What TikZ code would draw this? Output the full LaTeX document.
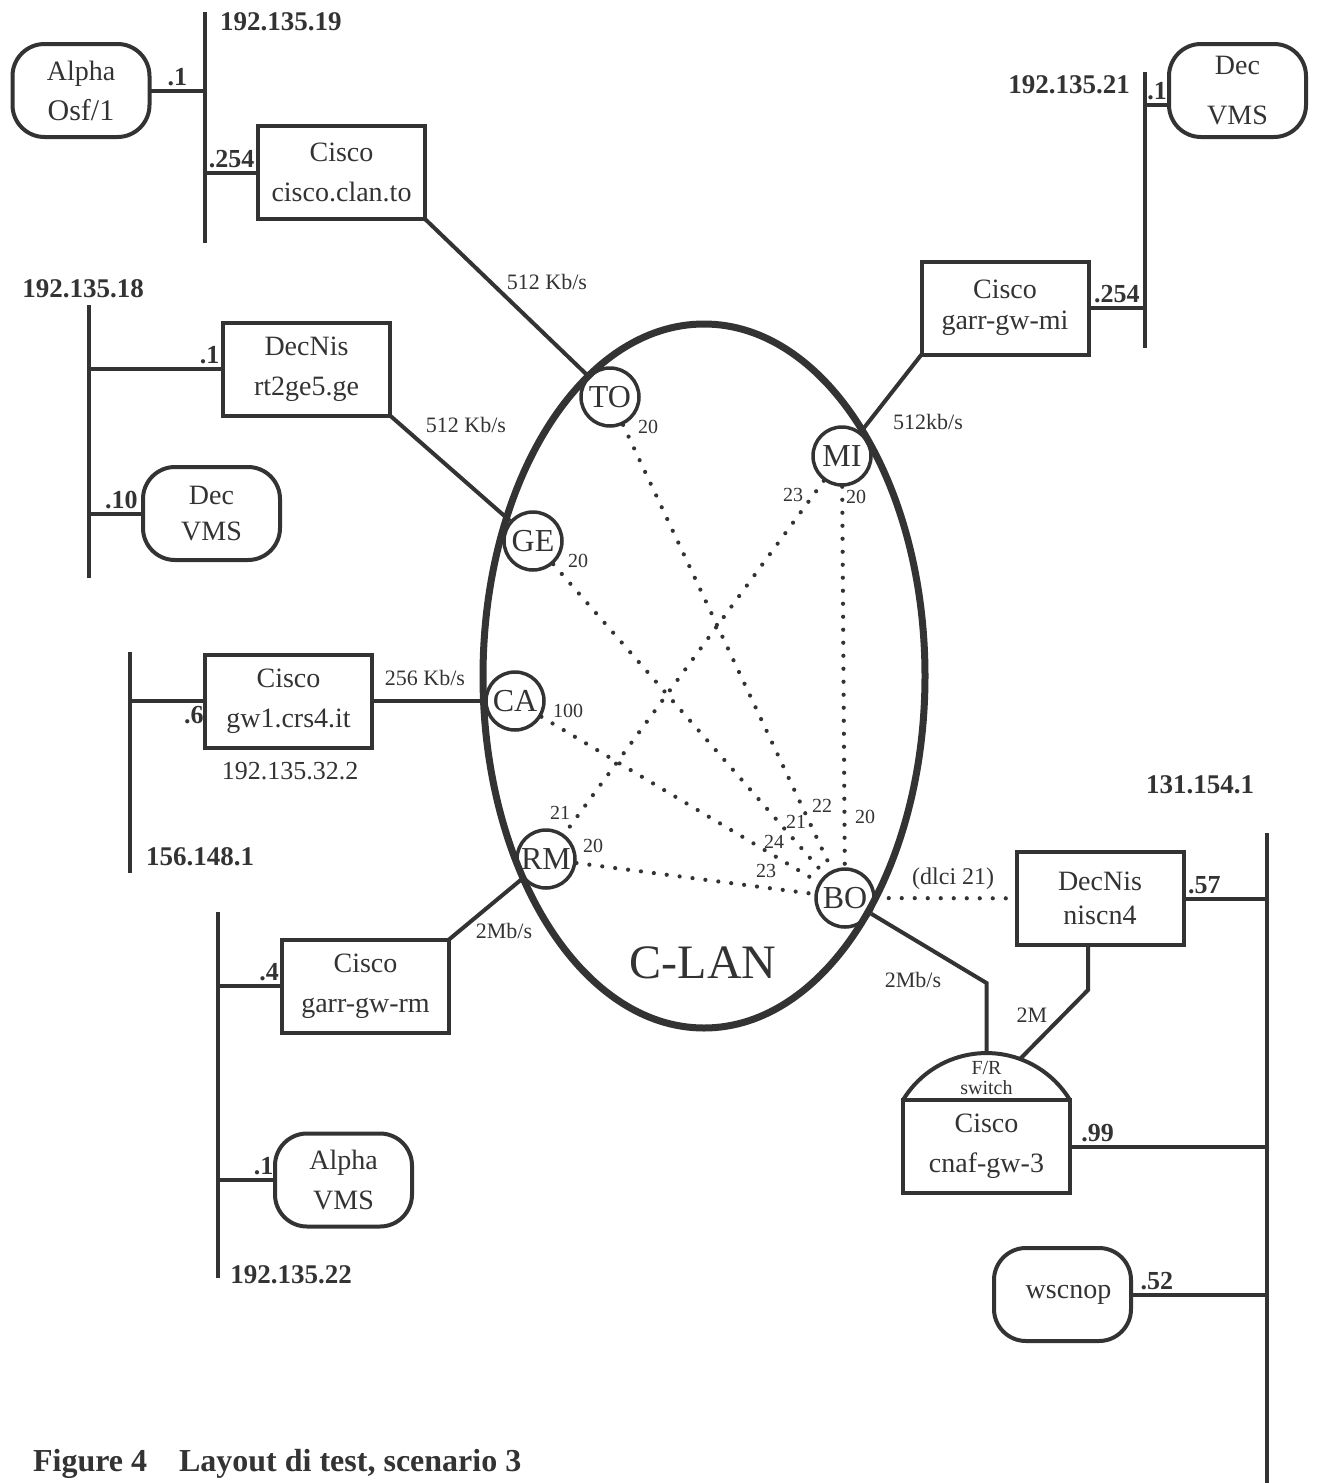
\documentclass[tikz,border=0pt]{standalone}
\usepackage{fontspec}
\setmainfont{Liberation Serif}
\usetikzlibrary{calc}
\definecolor{ink}{HTML}{333333}
\tikzset{every node/.style={text=ink},
  bus/.style={draw=ink,line width=2pt},
  link/.style={draw=ink,line width=2pt},
  dotlink/.style={draw=ink,line width=2.1pt,line cap=round,dash pattern=on 0pt off 6.5pt},
  router/.style={draw=ink,line width=2pt,outer sep=0pt,inner sep=2pt,
    minimum width=83.5pt,minimum height=46.5pt,align=center,
    font=\fontsize{14}{20}\selectfont},
  host/.style={router,rounded corners=16pt,minimum width=68.5pt},
  site/.style={circle,draw=ink,line width=1.75pt,minimum size=29pt,inner sep=0pt,
    font=\fontsize{16}{18}\selectfont},
  net/.style={font=\fontsize{13.5}{16}\selectfont\bfseries},
  addr/.style={font=\fontsize{13}{15}\selectfont\bfseries,inner sep=1.5pt},
  rate/.style={font=\fontsize{11}{13}\selectfont},
  cost/.style={font=\fontsize{10}{12}\selectfont,inner sep=1pt}}
\begin{document}
\begin{tikzpicture}[x=0.5pt,y=-0.5pt]
\useasboundingbox (0,0) rectangle (1318,1483);

% bus lines
\coordinate (b19a) at (205,12);   \coordinate (b19b) at (205,243);
\coordinate (b21a) at (1145,72);  \coordinate (b21b) at (1145,348);
\coordinate (b18a) at (89,305);   \coordinate (b18b) at (89,578);
\coordinate (b156a) at (130,652); \coordinate (b156b) at (130,873);
\coordinate (b22a) at (218,912);  \coordinate (b22b) at (218,1278);
\coordinate (b131a) at (1267,833);\coordinate (b131b) at (1267,1483);
\foreach \b in {19,21,18,156,22,131} \draw[bus] (b\b a) -- (b\b b);

\node[net,anchor=west] (n19) at (213,22) {192.135.19};
\node[net,anchor=east] (n21) at (1137,85) {192.135.21};
\node[net] (n18) at (83,289) {192.135.18};
\node[net] (n156) at (200,857) {156.148.1};
\node[net] (n22) at (291,1275) {192.135.22};
\node[net] (n131) at (1200,785) {131.154.1};

% boxes
\node[host] (alphaT) at (81,90.5) {Alpha\\{\fontsize{15}{20}\selectfont Osf/1}};
\node[router] (ciscoTO) at (341.5,172.5) {Cisco\\cisco.clan.to};
\node[host] (decMI) at (1237.5,90.5) {Dec\\[5pt]VMS};
\node[router] (ciscoMI) at (1005,308) {Cisco\\[-4.5pt]garr-gw-mi};
\node[router] (decnisGE) at (306.5,369) {DecNis\\rt2ge5.ge};
\node[host] (decGE) at (211.5,513.5) {Dec\\[-2pt]VMS};
\node[router] (ciscoCA) at (288.5,701) {Cisco\\gw1.crs4.it};
\node[font=\fontsize{13}{15}\selectfont] (ipCA) at (290,771) {192.135.32.2};
\node[router] (ciscoRM) at (365.5,986) {Cisco\\garr-gw-rm};
\node[host] (alphaRM) at (343.5,1180) {Alpha\\VMS};
\node[router] (decnisBO) at (1100,898.5) {DecNis\\[-3pt]niscn4};
\node[router] (ciscoBO) at (986.5,1146.5) {Cisco\\cnaf-gw-3};
\node[host] (wscnop) at (1062.5,1294.5) {\hspace*{6pt}wscnop};

% LAN attachments
\draw[link] (alphaT.east) -- node[addr,above]{.1} (alphaT.east -| b19a);
\draw[link] (ciscoTO.west) -- node[addr,above]{.254} (ciscoTO.west -| b19a);
\draw[link] ([yshift=-7pt]decMI.west) -- node[addr,above]{.1} ([yshift=-7pt]decMI.west -| b21a);
\draw[link] (ciscoMI.east) -- node[addr,above]{.254} (ciscoMI.east -| b21a);
\draw[link] (decnisGE.west -| b18a) -- node[addr,above,pos=.9]{.1} (decnisGE.west);
\draw[link] (decGE.west -| b18a) -- node[addr,above,pos=.6]{.10} (decGE.west);
\draw[link] (ciscoCA.west -| b156a) -- node[addr,below,pos=.85]{.6} (ciscoCA.west);
\draw[link] (ciscoRM.west -| b22a) -- node[addr,above,pos=.8]{.4} (ciscoRM.west);
\draw[link] (alphaRM.west -| b22a) -- node[addr,above,pos=.8]{.1} (alphaRM.west);
\draw[link] (decnisBO.east) -- node[addr,above,pos=.25]{.57} (decnisBO.east -| b131a);
\draw[link] (ciscoBO.east) -- node[addr,above,pos=.14]{.99} (ciscoBO.east -| b131a);
\draw[link] (wscnop.east) -- node[addr,above,pos=.19]{.52} (wscnop.east -| b131a);

% C-LAN
\draw[draw=ink,line width=3.5pt] (704,676) ellipse [x radius=221,y radius=352];
\node[font=\fontsize{24}{26}\selectfont] (clan) at (703,963) {C-LAN};

\node[site] (TO) at (610,397) {TO};
\node[site] (MI) at (842,456) {MI};
\node[site] (GE) at (533,541) {GE};
\node[site] (CA) at (515,701) {CA};
\node[site] (RM) at (546,859) {RM};
\node[site] (BO) at (845,898) {BO};

\draw[link] (ciscoTO.south east) -- (TO);
\draw[link] (decnisGE.south east) -- (GE);
\draw[link] (ciscoMI.south west) -- (MI);
\draw[link] (ciscoCA.east) -- (CA);
\draw[link] (ciscoRM.north east) -- (RM);
\node[rate] (r1) at (547,282) {512 Kb/s};
\node[rate] (r2) at (466,425) {512 Kb/s};
\node[rate] (r3) at (928,422) {512kb/s};
\node[rate] (r4) at (425,678) {256 Kb/s};
\node[rate] (r5) at (504,931) {2Mb/s};

% virtual circuits
\draw[dotlink] (TO) -- (BO);
\draw[dotlink] (GE) -- (BO);
\draw[dotlink] (CA) -- (BO);
\draw[dotlink] (RM) -- (BO);
\draw[dotlink] (MI) -- (BO);
\draw[dotlink] (MI) -- (RM);
\draw[dotlink] (BO) -- node[font=\fontsize{12}{14}\selectfont,above,pos=.55]{(dlci 21)} (decnisBO);

\node[cost] (cTO) at (648,427) {20};
\node[cost] (cMIa) at (793,495) {23};
\node[cost] (cMIb) at (856,497) {20};
\node[cost] (cGE) at (578,561) {20};
\node[cost] (cCA) at (568,711) {100};
\node[cost] (cRMa) at (560,813) {21};
\node[cost] (cRMb) at (593,846) {20};
\node[cost] (cBOa) at (822,806) {22};
\node[cost] (cBOb) at (865,817) {20};
\node[cost] (cBOc) at (796,822) {21};
\node[cost] (cBOd) at (774,842) {24};
\node[cost] (cBOe) at (766,871) {23};

% frame relay switch
\coordinate (domeTop) at ($(ciscoBO.north)+(0,-47)$);
\coordinate (bendA) at (986.5,983);
\coordinate (bendB) at (1088,990);
\coordinate (domeR) at (1020,1059);
\draw[link] (ciscoBO.north west) arc [start angle=-148.7,end angle=-31.3,radius=97.7];
\node[font=\fontsize{10}{10}\selectfont,align=center] (frsw) at (986.5,1078) {F/R\\switch};
\draw[link] (BO) -- (bendA) -- (domeTop);
\draw[link] (decnisBO.south -| bendB) -- (bendB) -- (domeR);
\node[rate] (r6) at (913,980) {2Mb/s};
\node[rate] (r7) at (1032,1015) {2M};

\node[anchor=west,font=\fontsize{16}{18}\selectfont\bfseries] (caption) at (26,1464)
  {Figure 4\quad Layout di test, scenario 3};
\end{tikzpicture}
\end{document}
